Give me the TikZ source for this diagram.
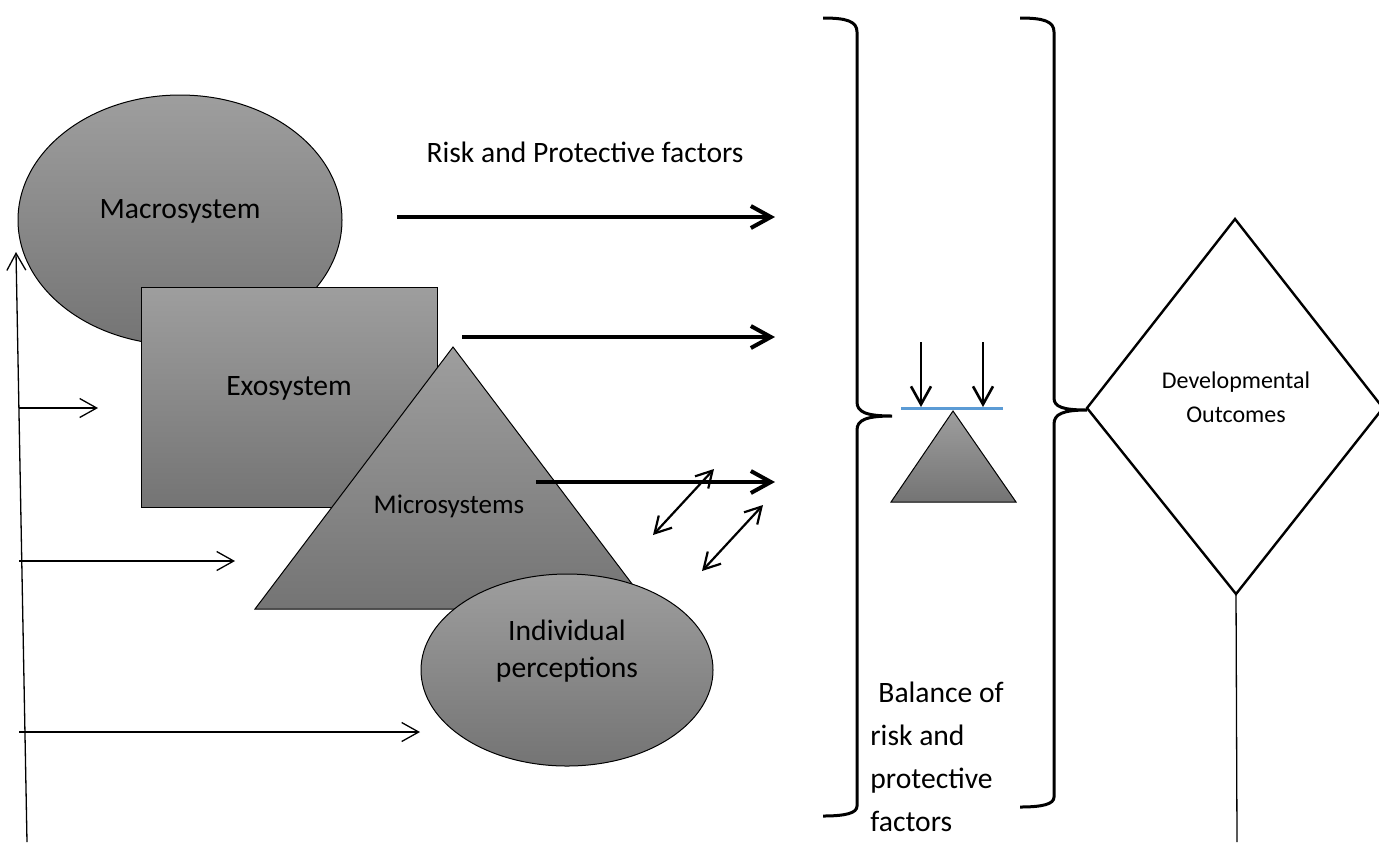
\documentclass[tikz,border=0pt]{standalone}
\usepackage{fontspec}
\setmainfont{Carlito}
\usetikzlibrary{arrows.meta}
\definecolor{gtop}{RGB}{158,158,158}
\definecolor{gbot}{RGB}{116,116,116}
\definecolor{beam}{RGB}{91,155,213}
\begin{document}
\begin{tikzpicture}[x=0.5pt,y=-0.5pt,
  shapebox/.style={draw=black, line width=0.5pt, top color=gtop, bottom color=gbot},
  lbl/.style={font=\fontsize{14.8}{17}\selectfont, inner sep=0pt},
  thickarr/.style={line width=2pt, -{Straight Barb[length=10pt,width=11pt]}},
  thinarr/.style={line width=0.65pt, -{Straight Barb[length=8.5pt,width=9.5pt]}},
  dblarr/.style={line width=1.1pt, {Straight Barb[length=8pt,width=9pt]}-{Straight Barb[length=8pt,width=9pt]}},
  downarr/.style={line width=1.3pt, -{Straight Barb[length=9pt,width=10pt]}},
  bracepath/.style={line width=1.5pt},
  thinline/.style={line width=0.65pt}]
\useasboundingbox (0,0) rectangle (1379,842);

% ecological system shapes
\draw[shapebox] (180,220) ellipse [x radius=81pt, y radius=62.5pt];
\draw[shapebox] (141,287) rectangle (437,507);
\draw[shapebox] (453,347) -- (651,609) -- (255,609) -- cycle;
\draw[shapebox] (567,670) ellipse [x radius=73pt, y radius=48pt];

% labels
\node[lbl, anchor=base] (macro) at (180,218) {Macrosystem};
\node[lbl, anchor=base] (exo) at (289,395) {Exosystem};
\node[lbl, anchor=base, font=\fontsize{13.5}{16}\selectfont] (micro) at (449,513) {Microsystems};
\node[lbl, anchor=base, align=center, font=\fontsize{14.8}{18.5}\selectfont] (indiv) at (567,677) {Individual\\perceptions};
\node[lbl, anchor=base] (risk) at (585,162) {Risk and Protective factors};

% risk and protective factor arrows
\coordinate (a1s) at (397,217); \coordinate (a1e) at (775,217);
\coordinate (a2s) at (462,337); \coordinate (a2e) at (775,337);
\coordinate (a3s) at (536,482); \coordinate (a3e) at (775,482);
\draw[thickarr] (a1s) -- (a1e);
\draw[thickarr] (a2s) -- (a2e);
\draw[thickarr] (a3s) -- (a3e);

% interaction arrows
\coordinate (d1a) at (653,535); \coordinate (d1b) at (714,469);
\coordinate (d2a) at (702,571); \coordinate (d2b) at (763,505);
\draw[dblarr] (d1a) -- (d1b);
\draw[dblarr] (d2a) -- (d2b);

% left time axis and arrows
\coordinate (vbot) at (27,842); \coordinate (vtop) at (16,252);
\draw[thinarr] (vbot) -- (vtop);
\coordinate (h1s) at (19,408); \coordinate (h1e) at (98,408);
\coordinate (h2s) at (19,561); \coordinate (h2e) at (235,561);
\coordinate (h3s) at (19,732); \coordinate (h3e) at (420,732);
\draw[thinarr] (h1s) -- (h1e);
\draw[thinarr] (h2s) -- (h2e);
\draw[thinarr] (h3s) -- (h3e);

% braces
\draw[bracepath] (823,18) .. controls (846,18) and (857,21) .. (857,32) -- (857,402)
  .. controls (857,412) and (866,416) .. (892,416)
  .. controls (866,416) and (857,420) .. (857,430) -- (857,806)
  .. controls (857,813) and (846,816) .. (823,816);
\draw[bracepath] (1020,18) .. controls (1043,18) and (1054,21) .. (1054,32) -- (1054,398)
  .. controls (1054,407) and (1063,410) .. (1087,410)
  .. controls (1063,410) and (1054,414) .. (1054,424) -- (1054,797)
  .. controls (1054,804) and (1043,807) .. (1020,807);

% balance
\draw[shapebox] (953,411) -- (1016,502) -- (891,502) -- cycle;
\coordinate (bl) at (901,408); \coordinate (br) at (1003,408);
\draw[beam, line width=1.5pt] (bl) -- (br);
\coordinate (w1) at (921,342); \coordinate (w1e) at (921,407);
\coordinate (w2) at (983,342); \coordinate (w2e) at (983,407);
\draw[downarr] (w1) -- (w1e);
\draw[downarr] (w2) -- (w2e);
\node[lbl, anchor=base west, align=left, font=\fontsize{14.8}{21.5}\selectfont] (bal) at (870,831) {\hspace*{4pt}Balance of\\risk and\\protective\\factors};

% outcomes diamond
\coordinate (dtop) at (1235,219); \coordinate (dright) at (1383,408);
\coordinate (dbot) at (1236,594); \coordinate (dleft) at (1087,408);
\draw[line width=1.2pt, line join=miter] (dtop) -- (dright) -- (dbot) -- (dleft) -- cycle;
\node[lbl, anchor=base, align=center, font=\fontsize{12}{17}\selectfont] (dev) at (1236,422) {Developmental\\Outcomes};
\coordinate (lend) at (1237,842);
\draw[thinline] (dbot) -- (lend);
\end{tikzpicture}
\end{document}
